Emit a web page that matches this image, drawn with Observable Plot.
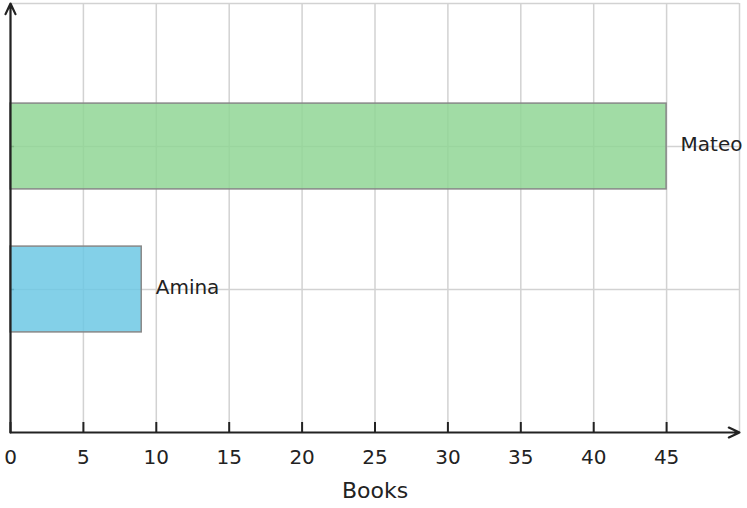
<!DOCTYPE html>
<html><head>
<meta charset="utf-8">
<script src="https://cdn.jsdelivr.net/npm/d3@7"></script>
<script src="https://cdn.jsdelivr.net/npm/@observablehq/plot@0.6"></script>
<style>body{margin:0;background:#fff}</style>
</head><body><div id="chart"></div>
<script>
const names = ["Amina", "Mateo"];
const books = [9, 45];
const rowPos = [1, 2];
const barColors = ["#6dc8e4", "#91d695"];
const xTicks = [0, 5, 10, 15, 20, 25, 30, 35, 40, 45];
const gridXTicks = [0, 5, 10, 15, 20, 25, 30, 35, 40, 45, 50];
const gridYTicks = [1, 2, 3];
const xDomain = [0, 50];
const yDomain = [0, 3];
const xLabel = "Books";
const halfBar = 0.3;
const tickLenY = 0.07;   // tick length in y units
const tickLenX = 0.28;   // tick length in x units

const data = names.map((n, i) => ({name: n, books: books[i], pos: rowPos[i], color: barColors[i]}));
const axisLines = [
  {x1: xDomain[0], y1: yDomain[0], x2: xDomain[1], y2: yDomain[0]},
  {x1: xDomain[0], y1: yDomain[0], x2: xDomain[0], y2: yDomain[1]}
];

const chart = Plot.plot({
  width: 747, height: 508,
  marginLeft: 10, marginRight: 8, marginTop: 3, marginBottom: 76,
  style: {fontFamily: "DejaVu Sans", fontSize: "20px", color: "#222", background: "#fff"},
  x: {domain: xDomain},
  y: {domain: yDomain, axis: null},
  color: {type: "identity"},
  marks: [
    Plot.gridX(gridXTicks, {stroke: "#d2d2d2", strokeOpacity: 1, strokeWidth: 1.5}),
    Plot.gridY(gridYTicks, {stroke: "#d2d2d2", strokeOpacity: 1, strokeWidth: 1.5}),
    Plot.ruleY(rowPos, {y: d => d, x1: xDomain[0], x2: xDomain[0] + tickLenX, stroke: "#222", strokeWidth: 1.5}),
    Plot.rect(data, {x1: 0, x2: "books", y1: d => d.pos - halfBar, y2: d => d.pos + halfBar,
      fill: "color", fillOpacity: 0.85, stroke: "#888", strokeWidth: 1.5}),
    Plot.text(data, {x: "books", y: "pos", text: "name", dx: 14, dy: -2, textAnchor: "start", fontSize: 20, fill: "#222"}),
    Plot.arrow(axisLines, {x1: "x1", y1: "y1", x2: "x2", y2: "y2", stroke: "#222", strokeWidth: 2.2, headLength: 8, headAngle: 50}),
    Plot.ruleX(xTicks, {x: d => d, y1: yDomain[0], y2: yDomain[0] + tickLenY, stroke: "#222", strokeWidth: 2}),
    Plot.axisX(xTicks, {tickSize: 0, tickPadding: 17, fontSize: 20, fill: "#222",
      label: xLabel, labelAnchor: "center", labelArrow: "none", labelOffset: 65})
  ]
});
chart.querySelectorAll('[aria-label="x-axis label"]').forEach(e => { e.setAttribute("font-size", "22"); e.style.fontSize = "22px"; e.querySelectorAll("text").forEach(t => t.style.fontSize = "22px"); });
document.getElementById("chart").appendChild(chart);
</script>
</body></html>
